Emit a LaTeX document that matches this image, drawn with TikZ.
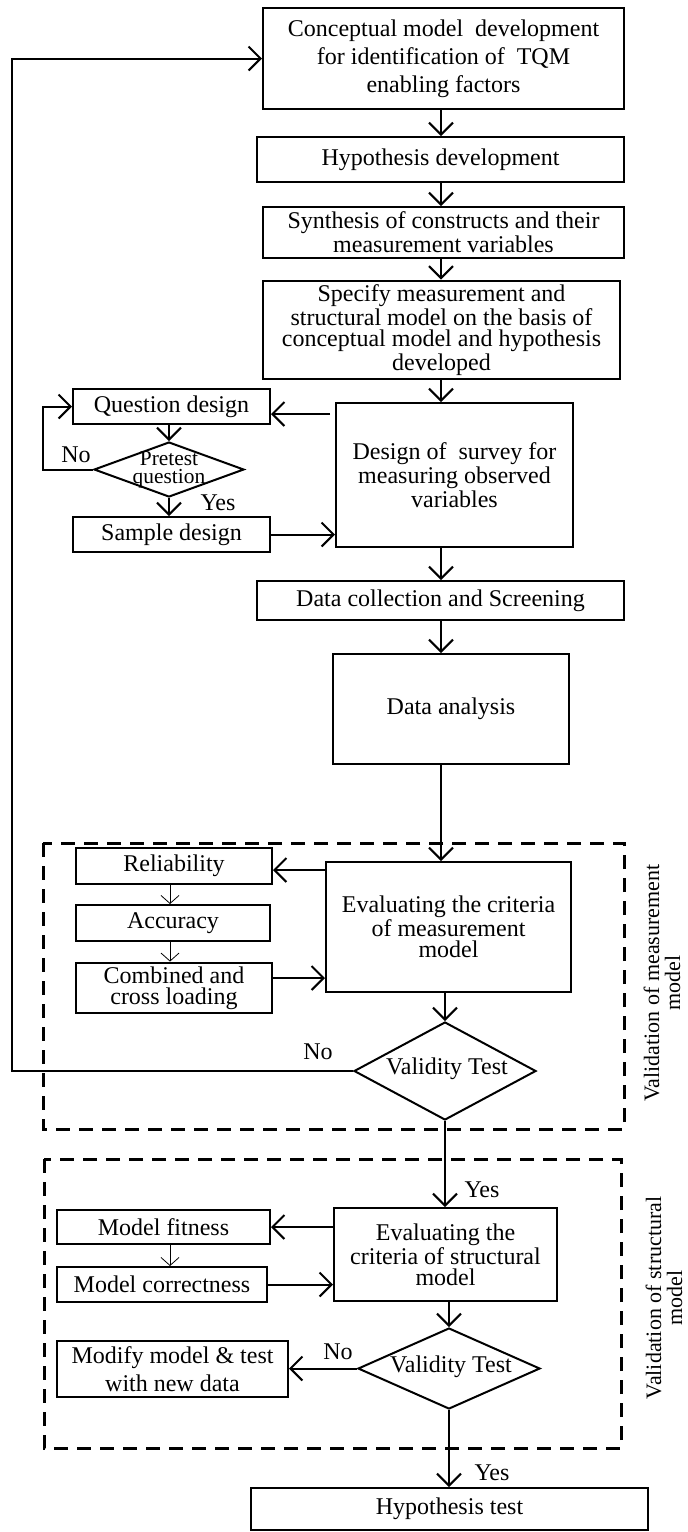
\documentclass[tikz,border=0pt]{standalone}
\usepackage{fontspec}
\setmainfont{Liberation Serif}
\usetikzlibrary{shapes.geometric,arrows.meta,calc}

\tikzset{
  txt/.style={font=\fontsize{12}{10.5}\selectfont, align=center, inner sep=1pt},
  box/.style={draw, txt, inner sep=2pt},
  wide/.style={font=\fontsize{12}{14}\selectfont},
  wh/.style 2 args={minimum width={#1*0.5pt}, minimum height={#2*0.5pt}},
  decision/.style={draw, diamond, inner sep=0pt},
  flow/.style={-{Straight Barb[length=6pt,width=12pt]}, line width=1pt},
  thinflow/.style={-{Straight Barb[length=4pt,width=9pt]}, line width=0.4pt},
  groupbox/.style={dash pattern=on 7pt off 4.5pt, line width=1.5pt},
  lbl/.style={font=\fontsize{12}{12}\selectfont, inner sep=0pt},
  sidelabel/.style={font=\fontsize{11}{10.5}\selectfont, align=center, rotate=90, inner sep=0pt}
}

\begin{document}
\begin{tikzpicture}[x=0.5pt,y=-0.5pt, line width=1pt]
\useasboundingbox (0,0) rectangle (687,1532);

% main column
\node[box, wide, wh={361}{101}] (concept) at (443.5,58.5)
  {Conceptual model\ \ development\\for identification of\ \ TQM\\enabling factors};
\node[box, wh={367}{45}] (hypdev) at (440.5,159.5) {Hypothesis development};
\node[box, wh={361}{51}] (synth) at (443.5,232.5)
  {Synthesis of constructs and their\\measurement variables};
\node[box, wh={357}{92}] (specify) at (441.5,330)
  {Specify measurement and\\structural model on the basis of\\conceptual model and hypothesis\\developed};

% survey design
\node[box, wh={197}{35}] (qdesign) at (171.5,406.5) {Question design};
\node[box, wh={237}{144}] (survey) at (454.5,475)
  {Design of\ \ survey for\\measuring observed\\variables};
\node[decision, wh={150}{55}] (pretest) at (169,469.5) {};
\node[txt, font=\fontsize{10.7}{9.2}\selectfont] (pretesttxt) at (pretest.center) {Pretest\\question};
\node[box, wh={197}{35}] (sample) at (171.5,534.5) {Sample design};

\node[box, wh={367}{39}] (datacoll) at (440.5,600.5) {Data collection and Screening};
\node[box, wh={236}{110}] (analysis) at (451,709) {Data analysis};

% measurement model
\draw[groupbox] (43,843) rectangle (624,1129);
\node[box, wh={196}{36}] (reliab) at (174,866) {Reliability};
\node[box, wh={194}{36}] (accuracy) at (173,923) {Accuracy};
\node[box, wh={196}{50}] (combined) at (174,988) {Combined and\\cross loading};
\node[box, wh={245}{130}] (evalmeas) at (448.5,927)
  {Evaluating the criteria\\of measurement\\model};
\node[decision, wh={182}{98}] (valid1) at (445,1071) {};
\node[txt] (valid1txt) at (447,1069) {Validity Test};
\node[sidelabel] (measlabel) at (662,983) {Validation of measurement\\model};

% structural model
\draw[groupbox] (44,1159) rectangle (621,1448);
\node[box, wh={213}{34}] (fitness) at (163.5,1227) {Model fitness};
\node[box, wh={210}{35}] (correct) at (162,1284.5) {Model correctness};
\node[box, wh={223}{93}] (evalstruct) at (445.5,1254.5)
  {Evaluating the\\criteria of structural\\model};
\node[decision, wh={182}{81}] (valid2) at (449,1368.5) {};
\node[txt] (valid2txt) at (451,1367) {Validity Test};
\node[box, wide, wh={231}{56}] (modify) at (172.5,1369) {Modify model \& test\\with new data};
\node[sidelabel] (structlabel) at (664,1298) {Validation of structural\\model};

\node[box, wh={397}{42}] (hyptest) at (449.5,1509) {Hypothesis test};

% branch labels
\node[lbl] (noq) at (76,455) {No};
\node[lbl] (yesq) at (218,503) {Yes};
\node[lbl] (no1) at (318,1052) {No};
\node[lbl] (yes1) at (482,1190) {Yes};
\node[lbl] (no2) at (338,1352) {No};
\node[lbl] (yes2) at (492,1473) {Yes};

% connectors
\coordinate (spine) at (441,0);
\coordinate (loop) at (43,0);
\coordinate (rail) at (12,0);
\coordinate (ta) at (170,0);

\draw[flow] (concept.south -| spine) -- (hypdev.north -| spine);
\draw[flow] (hypdev.south -| spine) -- (synth.north -| spine);
\draw[flow] (synth.south -| spine) -- (specify.north -| spine);
\draw[flow] (specify.south -| spine) -- (survey.north -| spine);
\draw[flow] (survey.south -| spine) -- (datacoll.north -| spine);
\draw[flow] (datacoll.south -| spine) -- (analysis.north -| spine);
\draw[flow] (analysis.south -| spine) -- (evalmeas.north -| spine);
\draw[flow] (evalmeas.south -| valid1) -- (valid1.north);
\draw[flow] (valid1.south) -- (evalstruct.north -| valid1);
\draw[flow] (evalstruct.south -| valid2) -- (valid2.north);
\draw[flow] (valid2.south) -- (hyptest.north -| valid2);

\coordinate (sq) at ([yshift=-6pt]survey.north west);
\draw[flow] ([xshift=-2.5pt]sq) -- (sq -| qdesign.east);
\draw[flow] (qdesign.south -| pretest) -- (pretest.north);
\draw[flow] (pretest.west) -- (pretest.west -| loop) -- (loop |- qdesign.west) -- (qdesign.west);
\draw[flow] (pretest.south) -- (sample.north -| pretest);
\draw[flow] (sample.east) -- (sample.east -| survey.west);

\coordinate (er) at ([yshift=-4.5pt]evalmeas.north west);
\draw[flow] (er) -- (er -| reliab.east);
\draw[thinflow] (reliab.south -| ta) -- (accuracy.north -| ta);
\draw[thinflow] (accuracy.south -| ta) -- (combined.north -| ta);
\coordinate (ce) at ([yshift=5pt]combined.east);
\draw[flow] (ce) -- (ce -| evalmeas.west);
\draw[flow] (valid1.west) -- (valid1.west -| rail) -- (rail |- concept.west) -- (concept.west);

\draw[flow] (evalstruct.west |- fitness.east) -- (fitness.east);
\draw[thinflow] (fitness.south -| ta) -- (correct.north -| ta);
\draw[flow] (correct.east) -- (correct.east -| evalstruct.west);
\draw[flow] (valid2.west) -- (modify.east |- valid2.west);
\end{tikzpicture}
\end{document}
